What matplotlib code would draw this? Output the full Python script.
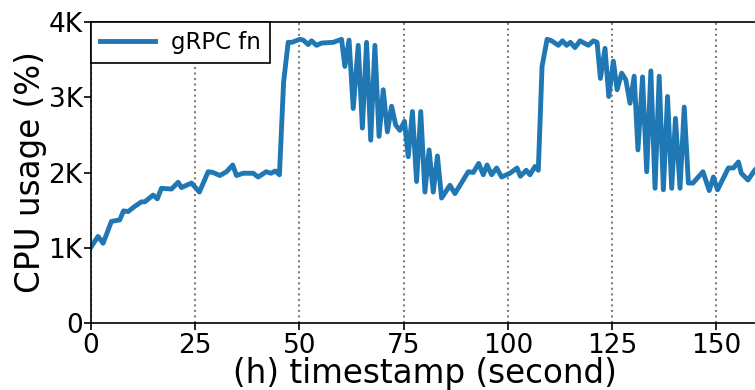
import matplotlib.pyplot as plt
from matplotlib.ticker import FuncFormatter

# timestamp (s) and CPU usage (%)
t = [0, 1.7, 2.9, 4.9, 6.9, 7.8, 8.9, 10.5, 12.1, 12.9, 14.9, 15.9, 16.9, 19.3,
     20.9, 21.7, 24.1, 26.0, 28.1, 29.3, 30.9, 32.5, 34.0, 34.9, 36.5, 38.9,
     40.1, 42.0, 43.2, 44.2, 45.2, 46.2, 47.3, 48.2, 50.1, 50.9, 52.1, 52.9,
     54.1, 55.3, 58.1, 60.1, 60.9, 61.9, 62.9, 64.1, 65.1, 66.1, 67.1, 68.1,
     69.1, 70.1, 71.1, 72.1, 73.1, 74.1, 75.2, 76.1, 77.1, 78.1, 79.1, 80.1,
     81.1, 82.1, 83.1, 84.1, 86.1, 87.3, 90.5, 91.7, 93.0, 94.1, 95.0, 96.1,
     97.3, 98.5, 100.5, 102.2, 103.0, 104.4, 105.3, 106.5, 107.3, 108.2, 109.4,
     110.5, 112.1, 113.1, 114.1, 115.0, 116.1, 117.3, 119.3, 120.5, 121.4,
     122.2, 123.3, 124.2, 125.3, 126.2, 127.3, 128.3, 129.3, 130.3, 131.2,
     132.3, 133.3, 134.3, 135.3, 136.3, 137.3, 138.3, 139.3, 140.2, 141.3,
     142.3, 143.3, 144.4, 146.8, 148.3, 149.3, 150.3, 152.9, 154.1, 155.3,
     156.0, 157.6, 159.2, 160.5]
cpu = [1010, 1150, 1060, 1350, 1370, 1490, 1480, 1550, 1610, 1610, 1700, 1650,
       1790, 1780, 1870, 1800, 1860, 1740, 2010, 2000, 1960, 2010, 2100, 1960,
       1990, 1990, 1940, 2010, 1990, 2020, 1970, 3200, 3730, 3730, 3770, 3760,
       3700, 3750, 3690, 3720, 3730, 3770, 3410, 3760, 2850, 3690, 2590, 3730,
       2430, 3690, 2480, 3100, 2540, 2880, 2630, 2560, 2680, 2210, 2810, 1880,
       2810, 1740, 2300, 1740, 2220, 1660, 1830, 1720, 2010, 2000, 2120, 1970,
       2100, 1970, 2060, 1940, 1990, 2060, 1950, 2030, 1970, 2080, 2030, 3410,
       3770, 3750, 3690, 3750, 3690, 3730, 3660, 3750, 3690, 3750, 3730, 3250,
       3650, 3010, 3480, 3100, 3320, 3230, 2920, 3280, 2300, 3270, 2010, 3350,
       1790, 3280, 1770, 3010, 1790, 2720, 1790, 2870, 1860, 1860, 2010, 1760,
       1940, 1770, 2060, 2060, 2140, 1990, 1900, 2030, 2100]

xticks = [0, 25, 50, 75, 100, 125, 150]
yticks = [0, 1000, 2000, 3000, 4000]

fig = plt.figure(figsize=(7.55, 3.9), dpi=100)
ax = fig.add_axes([91 / 755, 1 - 323 / 390, 667 / 755, 301 / 390])

ax.plot(t, cpu, color='#1f77b4', lw=3.5, label='gRPC fn')

ax.set_xlim(0, 160)
ax.set_ylim(0, 4000)
ax.set_xticks(xticks)
ax.set_yticks(yticks)
ax.yaxis.set_major_formatter(FuncFormatter(lambda v, p: '0' if v == 0 else '%dK' % (v / 1000)))
ax.tick_params(labelsize=19, length=5, width=1.2)
ax.tick_params(axis='x', pad=2.5)
ax.tick_params(axis='y', pad=1)
ax.grid(axis='x', linestyle=':', color='gray', lw=1.5)

for s in ax.spines.values():
    s.set_linewidth(1.2)

ax.set_xlabel('(h) timestamp (second)', fontsize=23.5, labelpad=-1.5)
ax.set_ylabel('CPU usage (%)', fontsize=23.5, labelpad=1)

leg = ax.legend(loc='upper left', fontsize=16.5, fancybox=False, borderaxespad=0,
                handlelength=2.4, handletextpad=0.7, framealpha=1)
leg.get_frame().set_edgecolor('black')
leg.get_frame().set_linewidth(1.2)

plt.savefig('out.png', dpi=100)
